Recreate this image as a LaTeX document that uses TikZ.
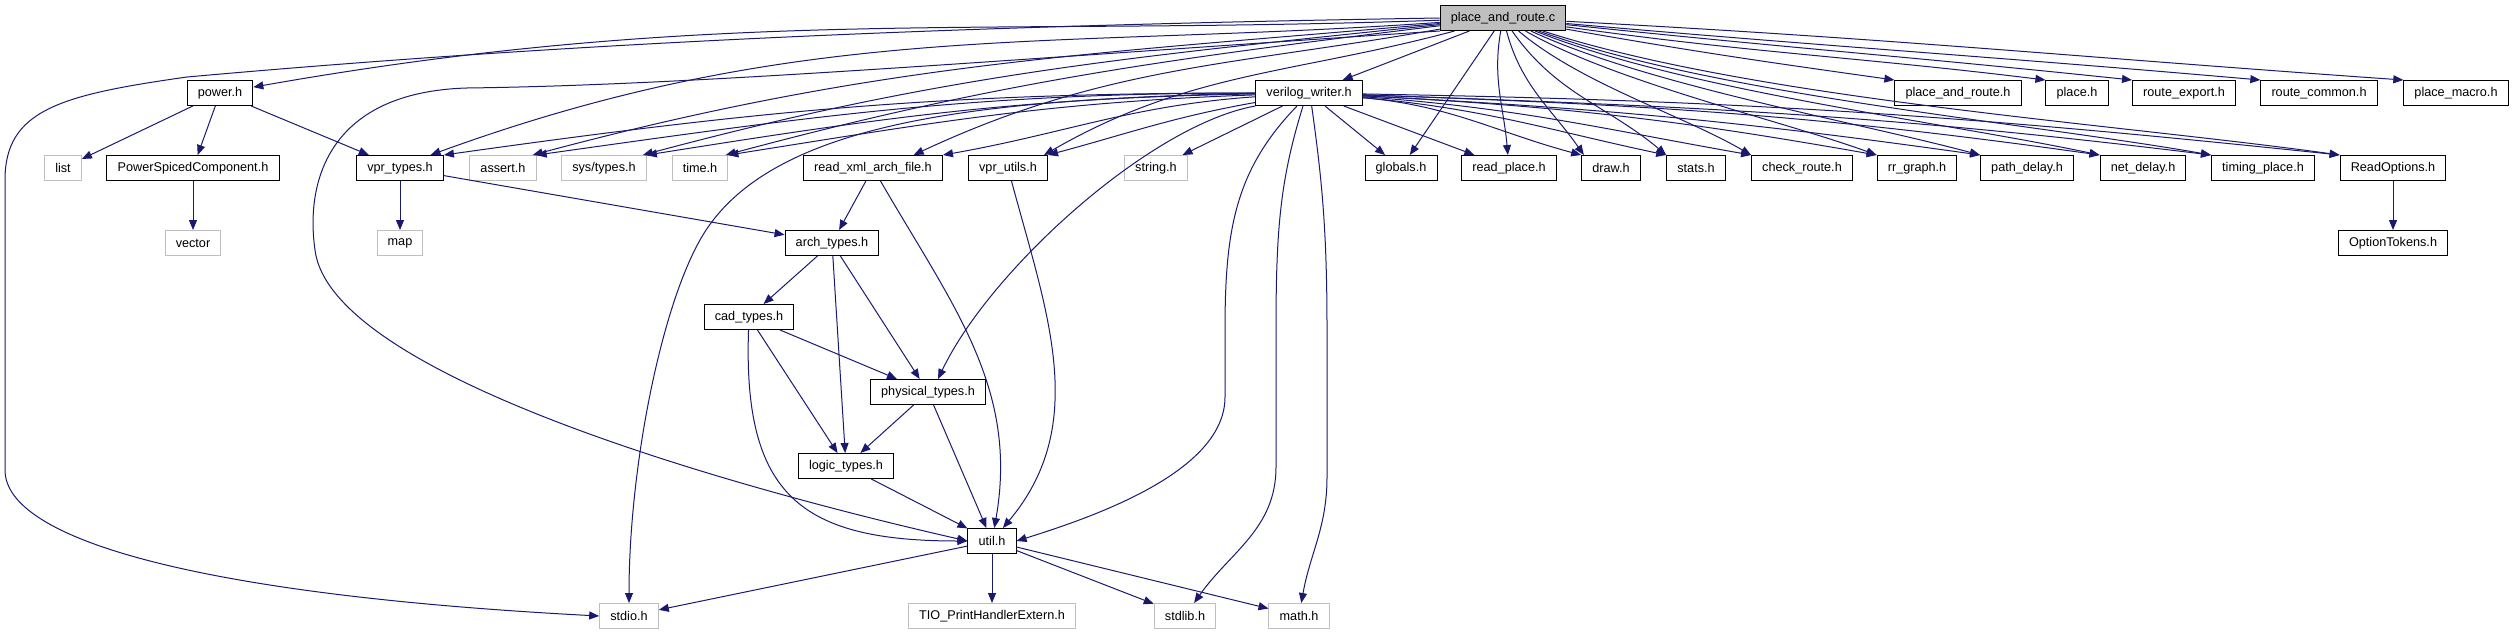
\documentclass[tikz,border=0pt]{standalone}
\usepackage{fontspec}
\setmainfont{Liberation Sans}
\usetikzlibrary{arrows.meta}
\definecolor{IncEdge}{HTML}{191970}
\definecolor{IncGrey}{HTML}{BFBFBF}

\begin{document}
\begin{tikzpicture}[x=0.75pt,y=0.75pt,
    file/.style={draw=black,line width=0.75pt,fill=white,inner xsep=8pt,
      inner ysep=0pt,minimum height=18.75pt,font=\fontsize{9.5}{11}\selectfont},
    sysfile/.style={file,draw=IncGrey},
    mainfile/.style={file,fill=IncGrey},
    inc/.style={IncEdge,line width=0.75pt,-{Triangle[length=7.5pt,width=6pt]}}]
  \useasboundingbox (0,0) rectangle (2515,-635);

  % files
  \node[mainfile] (PR) at (1503,-18) {place\_and\_route.c};
  \node[file] (power) at (220,-93) {power.h};
  \node[file] (vw) at (1309,-93) {verilog\_writer.h};
  \node[file] (parh) at (1958,-93) {place\_and\_route.h};
  \node[file] (place) at (2077,-93) {place.h};
  \node[file] (rexp) at (2184,-93) {route\_export.h};
  \node[file] (rcom) at (2319,-93) {route\_common.h};
  \node[file] (pmac) at (2456,-93) {place\_macro.h};

  \node[sysfile] (list) at (63,-168) {list};
  \node[file] (psc) at (193,-168) {PowerSpicedComponent.h};
  \node[file] (vprt) at (400,-168) {vpr\_types.h};
  \node[sysfile] (assert) at (503,-168) {assert.h};
  \node[sysfile] (systypes) at (604,-168) {sys/types.h};
  \node[sysfile] (time) at (700,-168) {time.h};
  \node[file] (rxml) at (873,-168) {read\_xml\_arch\_file.h};
  \node[file] (vpru) at (1008,-168) {vpr\_utils.h};
  \node[sysfile] (string) at (1156,-168) {string.h};
  \node[file] (globals) at (1401,-168) {globals.h};
  \node[file] (rplace) at (1509,-168) {read\_place.h};
  \node[file] (draw) at (1611,-168) {draw.h};
  \node[file] (stats) at (1696,-168) {stats.h};
  \node[file] (chkr) at (1802,-168) {check\_route.h};
  \node[file] (rrg) at (1917,-168) {rr\_graph.h};
  \node[file] (pdel) at (2027,-168) {path\_delay.h};
  \node[file] (ndel) at (2143,-168) {net\_delay.h};
  \node[file] (tplace) at (2263,-168) {timing\_place.h};
  \node[file] (ropt) at (2393,-168) {ReadOptions.h};

  \node[sysfile] (vector) at (193,-243) {vector};
  \node[sysfile] (map) at (400,-243) {map};
  \node[file] (arch) at (832,-243) {arch\_types.h};
  \node[file] (otok) at (2393,-243) {OptionTokens.h};
  \node[file] (cad) at (749,-317) {cad\_types.h};
  \node[file] (phys) at (928,-392) {physical\_types.h};
  \node[file] (logic) at (846,-466) {logic\_types.h};
  \node[file] (util) at (992,-541) {util.h};

  \node[sysfile] (stdio) at (629,-616) {stdio.h};
  \node[sysfile] (tio) at (992,-616) {TIO\_PrintHandlerExtern.h};
  \node[sysfile] (stdlib) at (1185,-616) {stdlib.h};
  \node[sysfile] (math) at (1299,-616) {math.h};

  % straight includes
  \foreach \a/\b in {PR/vw,PR/globals,vw/string,vw/globals,vw/rplace,
      power/list,power/psc,power/vprt,psc/vector,vprt/map,vprt/arch,
      rxml/arch,arch/cad,arch/logic,arch/phys,cad/phys,cad/logic,
      phys/logic,phys/util,logic/util,util/stdio,util/tio,util/stdlib,
      util/math,ropt/otok}
    \draw[inc] (\a) -- (\b);

  % place_and_route.c, to the left
  \draw[inc] (PR) to[out=182,in=10] (power);
  \foreach \b/\s/\o/\i in {vprt/-10/184/20,assert/-3/185/15,
      systypes/-3/186/15,time/-2/187/15,rxml/-22/190/25,vpru/-3/195/30}
    \draw[inc] (PR) to[out=\o,in=\i] ([xshift=\s pt]\b.north east);
  \draw[inc] (PR.west) .. controls (1000,-25) and (600,-40) .. (187,-77)
    .. controls (60,-95) and (5,-110) .. (5,-180) -- (5,-470)
    .. controls (5,-540) and (200,-595) .. (stdio.west);
  \draw[inc] (PR.south west) .. controls (1000,-60) and (700,-85) .. (467,-88)
    .. controls (330,-92) and (305,-180) .. (315,-250)
    .. controls (330,-370) and (700,-480) .. (util.west);

  % place_and_route.c, to the right
  \draw[inc] (PR) to[out=-100,in=95] (rplace);
  \foreach \b/\s/\o/\i/\l in {draw/2/-75/125/1,stats/0/-55/140/1,
      chkr/0/-40/150/0.8,rrg/0/-30/160/0.7,pdel/0/-25/165/0.7,
      ndel/0/-22/168/0.7,tplace/0/-20/170/0.7,ropt/0/-18/172/0.7,
      parh/0/-10/172/1,place/0/-8/173/1,rexp/0/-6/174/1,
      rcom/0/-5/175/1,pmac/0/-3/176/1}
    \draw[inc] (PR) to[out=\o,in=\i,looseness=\l] ([xshift=\s pt]\b.north west);

  % verilog_writer.h
  \foreach \b/\o/\i in {vprt/180/8,assert/180/8,systypes/181/9,
      time/182/9,rxml/184/10,vpru/190/15}
    \draw[inc] (vw) to[out=\o,in=\i] (\b.north east);
  \foreach \b/\o/\i in {draw/-5/165,stats/-5/168,chkr/-4/170,rrg/-3/170,
      pdel/-3/172,ndel/-2/172,tplace/-2/173,ropt/-1/174}
    \draw[inc] (vw) to[out=\o,in=\i] (\b.north west);
  \draw[inc] (vw.west) .. controls (1000,-100) and (770,-115) .. (700,-240)
    .. controls (660,-311) and (629,-470) .. (stdio.north);
  \draw[inc] (vw.south west) .. controls (1150,-125) and (990,-270)
    .. ([xshift=7.5pt]phys.north);
  \draw[inc] ([xshift=-9pt]vw.south) .. controls (1235,-170) and (1225,-230)
    .. (1225,-330) -- (1225,-397) .. controls (1225,-470) and (1100,-515)
    .. (util.east);
  \draw[inc] ([xshift=-4.5pt]vw.south) .. controls (1280,-180) and (1276,-230)
    .. (1276,-330) -- (1276,-467) to[out=-90,in=55] (stdlib);
  \draw[inc] ([xshift=2pt]vw.south) .. controls (1322,-180) and (1327,-230)
    .. (1327,-330) -- (1327,-477) to[out=-90,in=80] (math);

  % lower includes
  \draw[inc] (rxml) to[out=-60,in=80] (util);
  \draw[inc] (vpru) to[out=-75,in=50] (util);
  \draw[inc] (cad) to[out=-92,in=180,looseness=1.4] (util);
\end{tikzpicture}
\end{document}
